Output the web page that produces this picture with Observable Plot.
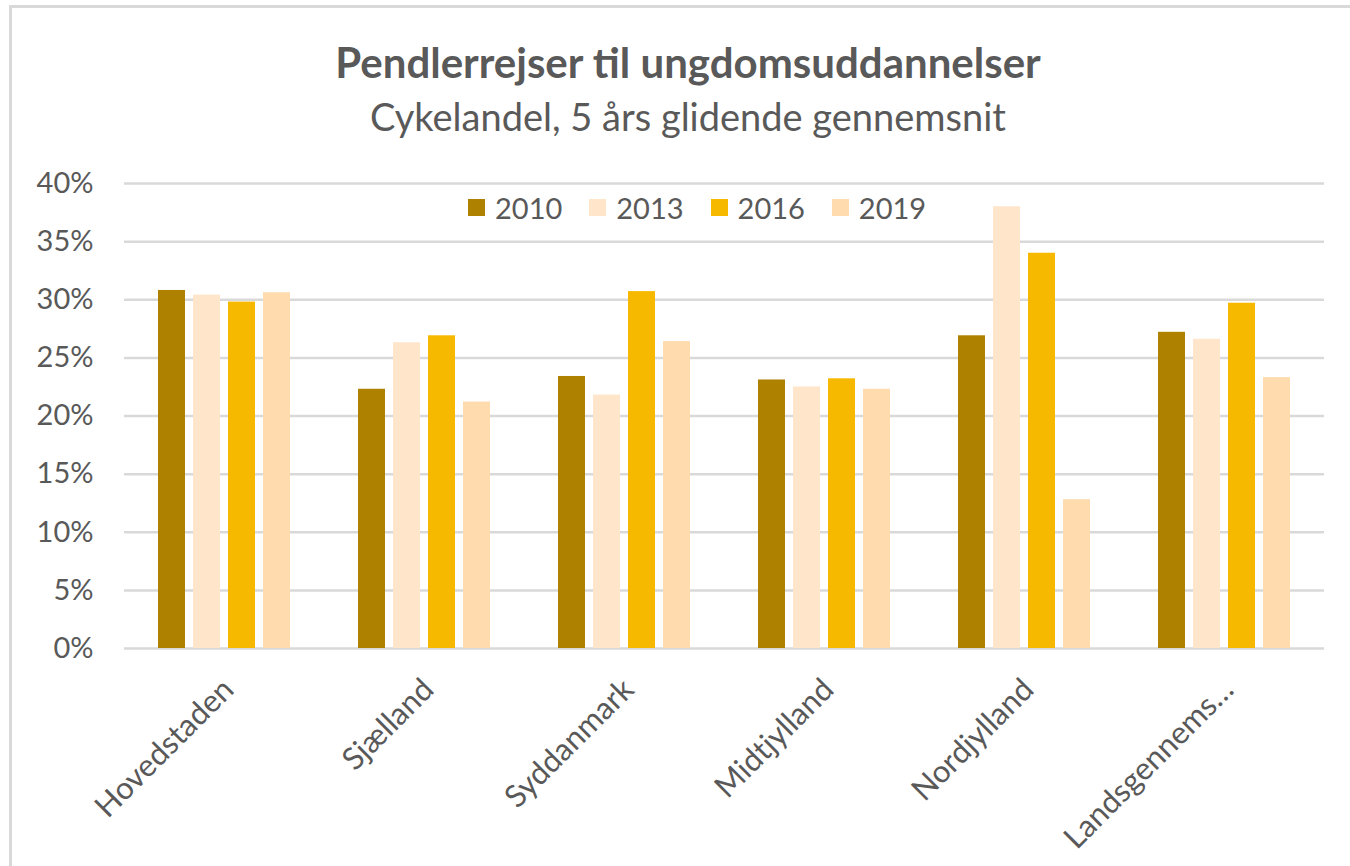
<!DOCTYPE html>
<html>
<head>
<meta charset="utf-8">
<script src="https://cdn.jsdelivr.net/npm/d3@7"></script>
<script src="https://cdn.jsdelivr.net/npm/@observablehq/plot@0.6"></script>
<style>
  html, body { margin: 0; padding: 0; background: #fff; }
  #wrap { position: relative; width: 1350px; height: 866px; overflow: hidden; background: #fff; font-family: Lato, "Open Sans", sans-serif; color: #595959; }
  #border { position: absolute; left: 9px; top: 5px; width: 1400px; height: 900px; border: 3px solid #D9D9D9; box-sizing: border-box; }
  #title { position: absolute; left: 0; width: 1376px; top: 41px; text-align: center; font-size: 42px; font-weight: 700; line-height: 42px; white-space: nowrap; }
  #subtitle { position: absolute; left: 0; width: 1376px; top: 97px; text-align: center; font-size: 38px; font-weight: 400; line-height: 38px; white-space: nowrap; }
  #chart { position: absolute; left: 0; top: 150px; }
  #legend { position: absolute; left: 468px; top: 190px; }
  .lg-swatch { margin-right: 27px !important; }
  .lg-swatch > svg { margin-right: 10px !important; }
  .lg-swatches { margin: 0 !important; }
</style>
</head>
<body>
<div id="wrap">
  <div id="border"></div>
  <div id="title">Pendlerrejser til ungdomsuddannelser</div>
  <div id="subtitle">Cykelandel, 5 års glidende gennemsnit</div>
  <div id="chart"></div>
  <div id="legend"></div>
</div>
<script>
const regions = ["Hovedstaden", "Sjælland", "Syddanmark", "Midtjylland", "Nordjylland", "Landsgennemsnit"];
const regionLabels = ["Hovedstaden", "Sjælland", "Syddanmark", "Midtjylland", "Nordjylland", "Landsgennems…"];
const years = ["2010", "2013", "2016", "2019"];
const v2010 = [30.8, 22.3, 23.4, 23.1, 26.9, 27.2];
const v2013 = [30.4, 26.3, 21.8, 22.5, 38.0, 26.6];
const v2016 = [29.8, 26.9, 30.7, 23.2, 34.0, 29.7];
const v2019 = [30.6, 21.2, 26.4, 22.3, 12.8, 23.3];
const colors = ["#AE8200", "#FFE6CA", "#F7B900", "#FFDBAD"];
const yTicks = [0, 5, 10, 15, 20, 25, 30, 35, 40];

const series = [v2010, v2013, v2016, v2019];
const table = [];
regions.forEach((r, i) => years.forEach((y, j) => table.push({region: r, year: y, value: series[j][i]})));

const plot = Plot.plot({
  width: 1350,
  height: 716,
  marginLeft: 123,
  marginRight: 26,
  marginTop: 33,
  marginBottom: 218,
  style: {fontFamily: "Lato, 'Open Sans', sans-serif", fontSize: "29px", color: "#595959", background: "transparent", overflow: "visible"},
  fx: {domain: regions, padding: 0, label: null},
  x: {domain: years, paddingInner: 0.22, paddingOuter: 0.888, axis: null},
  y: {domain: [0, 40], label: null},
  color: {domain: years, range: colors},
  marks: [
    Plot.ruleY(yTicks, {stroke: "#D9D9D9", strokeWidth: 2.5}),
    Plot.barY(table, {fx: "region", x: "year", y: "value", fill: "year"}),
    Plot.axisY({ticks: yTicks, tickFormat: d => d + "%", tickSize: 0, tickPadding: 31, label: null, fontSize: 29}),
    Plot.axisFx({anchor: "bottom", tickRotate: -45, tickSize: 0, tickPadding: 36, dx: 4, label: null, fontSize: 31,
      tickFormat: d => regionLabels[regions.indexOf(d)]})
  ]
});
document.getElementById("chart").appendChild(plot);

const leg = plot.legend("color", {
  className: "lg",
  swatchSize: 17,
  style: {fontFamily: "Lato, 'Open Sans', sans-serif", fontSize: "29px", color: "#595959", margin: "0"}
});
document.getElementById("legend").appendChild(leg);
</script>
</body>
</html>
